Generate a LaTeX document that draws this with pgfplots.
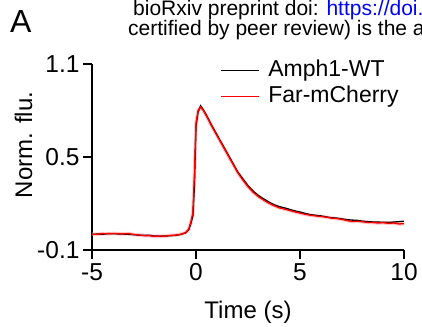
\documentclass[border=0pt]{standalone}
\usepackage{fontspec}
\setmainfont{Liberation Sans}
\usepackage{pgfplots}
\pgfplotsset{compat=1.18}
\usepackage{xcolor}
\pgfplotstableread{
t v
-5.0 0.000
-4.75 0.003
-4.5 0.001
-4.25 0.006
-4.0 0.005
-3.75 0.004
-3.5 0.003
-3.25 0.001
-3.0 -0.001
-2.75 -0.004
-2.5 -0.006
-2.25 -0.005
-2.0 -0.010
-1.75 -0.011
-1.5 -0.010
-1.25 -0.008
-1.0 -0.006
-0.75 0.000
-0.5 0.010
-0.35 0.030
-0.25 0.070
-0.15 0.120
-0.08 0.300
0.0 0.700
0.1 0.790
0.22 0.830
0.35 0.805
0.5 0.770
0.75 0.705
1.0 0.645
1.25 0.585
1.5 0.525
1.75 0.465
2.0 0.405
2.25 0.360
2.5 0.315
2.75 0.280
3.0 0.252
3.25 0.230
3.5 0.210
3.75 0.192
4.0 0.180
4.25 0.172
4.5 0.162
4.75 0.152
5.0 0.145
5.25 0.136
5.5 0.128
5.75 0.124
6.0 0.120
6.25 0.114
6.5 0.108
6.75 0.106
7.0 0.101
7.25 0.096
7.5 0.093
7.75 0.091
8.0 0.086
8.25 0.083
8.5 0.081
8.75 0.080
9.0 0.079
9.25 0.078
9.5 0.080
9.75 0.083
10.0 0.086
}\wt
\pgfplotstableread{
t v
-5.0 0.002
-4.75 0.001
-4.5 0.006
-4.25 0.004
-4.0 0.007
-3.75 0.005
-3.5 0.004
-3.25 0.006
-3.0 0.000
-2.75 -0.003
-2.5 -0.007
-2.25 -0.008
-2.0 -0.012
-1.75 -0.010
-1.5 -0.011
-1.25 -0.006
-1.0 -0.004
-0.75 0.001
-0.5 0.012
-0.35 0.035
-0.25 0.080
-0.15 0.140
-0.08 0.380
0.0 0.720
0.1 0.800
0.22 0.822
0.35 0.800
0.5 0.765
0.75 0.700
1.0 0.640
1.25 0.580
1.5 0.520
1.75 0.460
2.0 0.400
2.25 0.352
2.5 0.308
2.75 0.272
3.0 0.244
3.25 0.222
3.5 0.202
3.75 0.186
4.0 0.172
4.25 0.164
4.5 0.155
4.75 0.146
5.0 0.138
5.25 0.130
5.5 0.124
5.75 0.120
6.0 0.116
6.25 0.112
6.5 0.106
6.75 0.103
7.0 0.098
7.25 0.090
7.5 0.084
7.75 0.086
8.0 0.082
8.25 0.078
8.5 0.077
8.75 0.074
9.0 0.076
9.25 0.072
9.5 0.074
9.75 0.068
10.0 0.070
}\fm
\begin{document}
\begin{tikzpicture}
\useasboundingbox (0,0) rectangle (422pt,326pt);
\clip (0,0) rectangle (422pt,326pt);
\node[anchor=base west, inner sep=0pt, font=\fontsize{21}{25}\selectfont] at (133pt,310pt) {bioRxiv preprint doi: \textcolor{blue}{https://doi.org/10.1101}};
\node[anchor=base west, inner sep=0pt, font=\fontsize{21}{25}\selectfont] at (128pt,290pt) {certified by peer review) is the author/funder};
\node[anchor=base west, inner sep=0pt, font=\fontsize{32}{36}\selectfont] at (10pt,293pt) {A};
\begin{axis}[
  at={(92pt,76pt)}, anchor=south west,
  scale only axis, width=312pt, height=186pt,
  xmin=-5, xmax=10, ymin=-0.1, ymax=1.1,
  axis x line*=bottom, axis y line*=left,
  axis line style={-, line width=1.1pt},
  tick style={line width=1.1pt, black},
  tick align=outside, major tick length=9pt,
  xtick={-5,0,5,10}, xticklabels={-5,0,5,10},
  ytick={-0.1,0.5,1.1}, yticklabels={-0.1,0.5,1.1},
  ticklabel style={font=\fontsize{24.5}{28}\selectfont},
  xticklabel style={yshift=-1pt},
  xlabel={Time (s)}, ylabel={Norm. flu.},
  label style={font=\fontsize{24}{28}\selectfont},
  xlabel style={at={(axis description cs:0.5,0)}, anchor=base, yshift=-68pt},
  ylabel style={at={(axis description cs:-0.192,0.565)}, anchor=base},
  legend style={draw=none, fill=none, at={(axis description cs:0.41,1.03)}, anchor=north west,
    font=\fontsize{23}{26}\selectfont, row sep=1.5pt, inner sep=0pt,
    nodes={inner sep=1pt, text depth=5pt, text height=17pt},
    /tikz/every odd column/.style={column sep=8pt}},
  legend cell align=left,
  clip=false,
]
\addlegendimage{legend image code/.code={\draw[black, line width=1.2pt] (0pt,0pt) -- (38pt,0pt);}}
\addlegendentry{Amph1-WT}
\addlegendimage{legend image code/.code={\draw[red, line width=1.2pt] (0pt,0pt) -- (38pt,0pt);}}
\addlegendentry{Far-mCherry}
\addplot[red!35, line width=3.5pt, opacity=0.6, forget plot] table[x=t,y=v] {\fm};
\addplot[black, line width=1.3pt, forget plot] table[x=t,y=v] {\wt};
\addplot[red, line width=1.3pt, forget plot] table[x=t,y=v] {\fm};
\end{axis}
\end{tikzpicture}
\end{document}
